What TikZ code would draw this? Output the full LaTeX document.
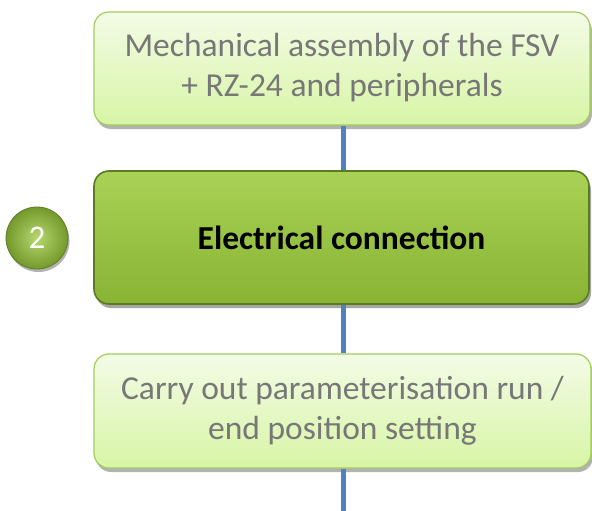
\documentclass[tikz,border=0pt]{standalone}
\usepackage{fontspec}
\setmainfont{Carlito}
\usetikzlibrary{shadows}
\definecolor{lighttop}{HTML}{F3FBE6}
\definecolor{lightbot}{HTML}{D8F5A6}
\definecolor{lightborder}{HTML}{A2CD5C}
\definecolor{darktop}{HTML}{A9D256}
\definecolor{darkbot}{HTML}{88B333}
\definecolor{darkborder}{HTML}{5C7A22}
\definecolor{txtgray}{HTML}{777777}
\definecolor{linkblue}{HTML}{4F81BD}
\newcommand{\lowtext}[1]{\raisebox{-3.5pt}{\begin{tabular}{@{}c@{}}#1\end{tabular}}}
\tikzset{
  lightbox/.style={draw=lightborder, line width=1.2pt, rounded corners=15pt,
    top color=lighttop, bottom color=lightbot, text=txtgray,
    align=center, inner sep=0pt,
    font=\fontsize{33.5}{40}\selectfont,
    drop shadow={shadow xshift=2pt, shadow yshift=-4pt, opacity=0.3, fill=black}},
  darkbox/.style={draw=darkborder, line width=1.6pt, rounded corners=15pt,
    top color=darktop, bottom color=darkbot, text=black,
    align=center, inner sep=0pt,
    font=\fontsize{33.5}{40}\selectfont\bfseries,
    drop shadow={shadow xshift=2pt, shadow yshift=-4pt, opacity=0.35, fill=black}},
  stepcircle/.style={circle, inner sep=0pt, minimum size=62pt,
    draw=darkbot!70!black, line width=0.8pt,
    inner color=darktop!85!white, outer color=darkbot!85!black, text=white,
    font=\fontsize{33}{38}\selectfont,
    drop shadow={shadow xshift=1.5pt, shadow yshift=-3pt, opacity=0.3, fill=black}},
  link/.style={draw=linkblue, line width=5pt}
}
\begin{document}
\begin{tikzpicture}[x=1pt,y=1pt]
\useasboundingbox (0,0) rectangle (592,-511);
\coordinate (bottomend) at (343,-511);
\node[lightbox, minimum width=496pt, minimum height=113pt] (b1) at (342,-68.5)
  {\lowtext{Mechanical assembly of the FSV\\+ RZ-24 and peripherals}};
\node[darkbox, minimum width=495pt, minimum height=133pt] (b2) at (341.5,-237.5)
  {Electrical connection};
\node[lightbox, minimum width=497pt, minimum height=114pt] (b3) at (342.5,-411)
  {\lowtext{Carry out parameterisation run /\\end position setting}};
\draw[link] ([xshift=1.5pt]b1.south) -- ([xshift=2pt]b2.north);
\draw[link] ([xshift=2pt]b2.south) -- ([xshift=1pt]b3.north);
\draw[link] ([xshift=0.5pt]b3.south) -- (bottomend);
\node[stepcircle] (c2) at (37,-238) {2};
\end{tikzpicture}
\end{document}
